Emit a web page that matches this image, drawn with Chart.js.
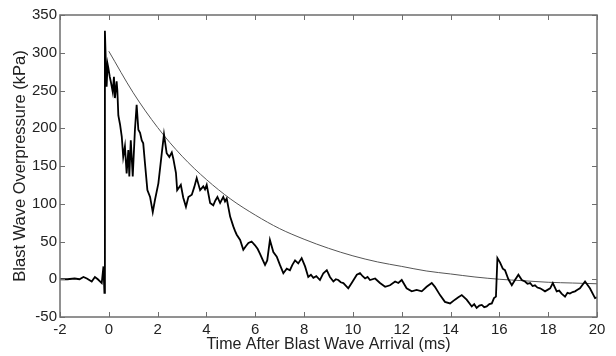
<!DOCTYPE html>
<html>
<head>
<meta charset="utf-8">
<script src="https://cdn.jsdelivr.net/npm/chart.js@4"></script>
<style>
  html, body { margin: 0; padding: 0; background: #fff; }
  #wrap { width: 616px; height: 356px; }
</style>
</head>
<body>
<div id="wrap"><canvas id="blastChart" width="616" height="356"></canvas></div>
<script>
// measured trace (ms, kPa)
const traceTime = [
  -2.00, -1.70, -1.40, -1.20, -1.04, -0.90, -0.70, -0.57, -0.45, -0.29, -0.22, -0.18, -0.16,
  -0.12, -0.09, -0.05, -0.02, 0.04, 0.08, 0.16, 0.21, 0.25, 0.32, 0.35, 0.39, 0.46, 0.53,
  0.59, 0.66, 0.73, 0.80, 0.84, 0.90, 0.98, 1.07, 1.14, 1.21, 1.28, 1.35, 1.41, 1.48, 1.58,
  1.69, 1.80, 1.89, 2.03, 2.17, 2.26, 2.37, 2.48, 2.58, 2.64, 2.75, 2.80, 2.95, 3.05, 3.16,
  3.26, 3.40, 3.50, 3.60, 3.67, 3.74, 3.87, 3.94, 4.01, 4.15, 4.28, 4.36, 4.45, 4.56, 4.69,
  4.76, 4.83, 4.97, 5.10, 5.17, 5.24, 5.38, 5.51, 5.62, 5.72, 5.85, 5.99, 6.10, 6.19, 6.30,
  6.40, 6.49, 6.60, 6.74, 6.88, 7.01, 7.15, 7.29, 7.42, 7.52, 7.63, 7.76, 7.90, 8.04, 8.17,
  8.28, 8.38, 8.50, 8.65, 8.79, 8.93, 9.06, 9.20, 9.30, 9.40, 9.50, 9.61, 9.81, 9.95, 10.16,
  10.29, 10.40, 10.50, 10.60, 10.70, 10.91, 11.11, 11.32, 11.52, 11.73, 11.86, 12.00, 12.20,
  12.41, 12.61, 12.82, 13.02, 13.23, 13.36, 13.57, 13.77, 13.98, 14.18, 14.32, 14.46, 14.66,
  14.87, 14.97, 15.07, 15.18, 15.28, 15.38, 15.48, 15.59, 15.69, 15.78, 15.86, 15.92, 16.03,
  16.14, 16.23, 16.37, 16.51, 16.64, 16.78, 16.92, 17.05, 17.15, 17.26, 17.36, 17.46, 17.56,
  17.67, 17.77, 17.87, 18.08, 18.19, 18.35, 18.45, 18.55, 18.69, 18.79, 18.89, 19.00, 19.10,
  19.20, 19.30, 19.51, 19.71, 19.92, 20.00
];
const tracePressure = [
  0, 0, 1, 0, 3, 1, -3, 3, 0, -5, 17, -18, 329,
  284, 255, 285, 280, 268, 262, 248, 268, 240, 262, 250, 217, 205, 189,
  162, 176, 140, 171, 136, 184, 136, 198, 231, 198, 194, 184, 180, 154, 118,
  109, 89, 105, 127, 167, 192, 167, 162, 168, 160, 141, 118, 125, 108, 96,
  109, 112, 122, 134, 126, 118, 123, 119, 125, 101, 98, 104, 109, 101, 109,
  103, 107, 83, 70, 64, 59, 52, 39, 44, 48, 50, 45, 40, 34, 26,
  19, 25, 52, 36, 30, 19, 8, 14, 12, 19, 25, 21, 28, 17, 3,
  6, 2, 4, -1, 8, 12, 3, -3, 0, -1, -4, -5, -12, -5, 6,
  8, 4, 1, 3, -1, 1, -5, -10, -8, -3, -5, -1, -12,
  -16, -14, -16, -10, -5, -10, -21, -30, -32, -27, -24, -21, -27,
  -36, -33, -38, -35, -34, -37, -36, -33, -32, -25, -23, 28, 22,
  14, 12, 0, -8, -1, 6, -1, -3, -6, -5, -9, -8, -11,
  -12, -14, -16, -12, -5, -16, -15, -19, -23, -18, -19, -17, -16,
  -14, -12, -3, -12, -25, -24
];

// smooth decay curve
const fitTime = [0, 1, 2, 3, 4, 5, 6, 7, 8, 9, 10, 11, 12, 13, 14, 15, 16, 17, 18, 19, 20];
const fitPressure = [302, 247, 201, 163, 132, 106, 85, 67, 53, 41, 31, 23, 17, 11, 7, 3, 0, -2, -4, -5, -6];

const xTicks = [-2, 0, 2, 4, 6, 8, 10, 12, 14, 16, 18, 20];
const yTicks = [-50, 0, 50, 100, 150, 200, 250, 300, 350];

const fontFamily = "'Liberation Sans', Arial, sans-serif";

// box round the plot with inward ticks on all four sides
const framePlugin = {
  id: 'frame',
  afterDatasetsDraw(chart) {
    const { ctx, chartArea: a, scales } = chart;
    ctx.save();
    ctx.strokeStyle = '#6e6e6e';
    ctx.lineWidth = 1.5;
    ctx.strokeRect(a.left, a.top, a.right - a.left, a.bottom - a.top);
    ctx.lineWidth = 1;
    ctx.beginPath();
    xTicks.forEach(v => {
      const px = Math.round(scales.x.getPixelForValue(v)) + 0.5;
      ctx.moveTo(px, a.bottom); ctx.lineTo(px, a.bottom - 5);
      ctx.moveTo(px, a.top); ctx.lineTo(px, a.top + 5);
    });
    yTicks.forEach(v => {
      const py = Math.round(scales.y.getPixelForValue(v)) + 0.5;
      ctx.moveTo(a.left, py); ctx.lineTo(a.left + 5, py);
      ctx.moveTo(a.right, py); ctx.lineTo(a.right - 5, py);
    });
    ctx.stroke();
    ctx.restore();
  }
};

const ctx = document.getElementById('blastChart').getContext('2d');
new Chart(ctx, {
  type: 'line',
  data: {
    datasets: [
      {
        label: 'Measured',
        data: traceTime.map((t, i) => ({ x: t, y: tracePressure[i] })),
        borderColor: '#000',
        borderWidth: 1.8,
        pointRadius: 0,
        tension: 0
      },
      {
        label: 'Fit',
        data: fitTime.map((t, i) => ({ x: t, y: fitPressure[i] })),
        borderColor: '#555',
        borderWidth: 1,
        pointRadius: 0,
        cubicInterpolationMode: 'monotone'
      }
    ]
  },
  options: {
    responsive: false,
    animation: false,
    layout: { padding: { top: 15, right: 19, left: 0, bottom: 0 } },
    plugins: {
      legend: { display: false },
      tooltip: { enabled: false }
    },
    scales: {
      x: {
        type: 'linear',
        min: -2,
        max: 20,
        afterFit(scale) { scale.height = 39; },
        afterBuildTicks(scale) { scale.ticks = xTicks.map(v => ({ value: v })); },
        grid: { display: false, drawTicks: false },
        border: { display: false },
        ticks: { color: '#222', padding: 4, font: { family: fontFamily, size: 15 } },
        title: {
          display: true,
          text: 'Time After Blast Wave Arrival (ms)',
          color: '#222',
          font: { family: fontFamily, size: 16 },
          padding: { top: 0, bottom: 2 }
        }
      },
      y: {
        min: -50,
        max: 350,
        afterFit(scale) { scale.width = 60; },
        afterBuildTicks(scale) { scale.ticks = yTicks.map(v => ({ value: v })); },
        grid: { display: false, drawTicks: false },
        border: { display: false },
        ticks: { color: '#222', padding: 3, font: { family: fontFamily, size: 15 } },
        title: {
          display: true,
          text: 'Blast Wave Overpressure (kPa)',
          color: '#222',
          font: { family: fontFamily, size: 16.5 },
          padding: { top: 11, bottom: 0 }
        }
      }
    }
  },
  plugins: [framePlugin]
});
</script>
</body>
</html>
